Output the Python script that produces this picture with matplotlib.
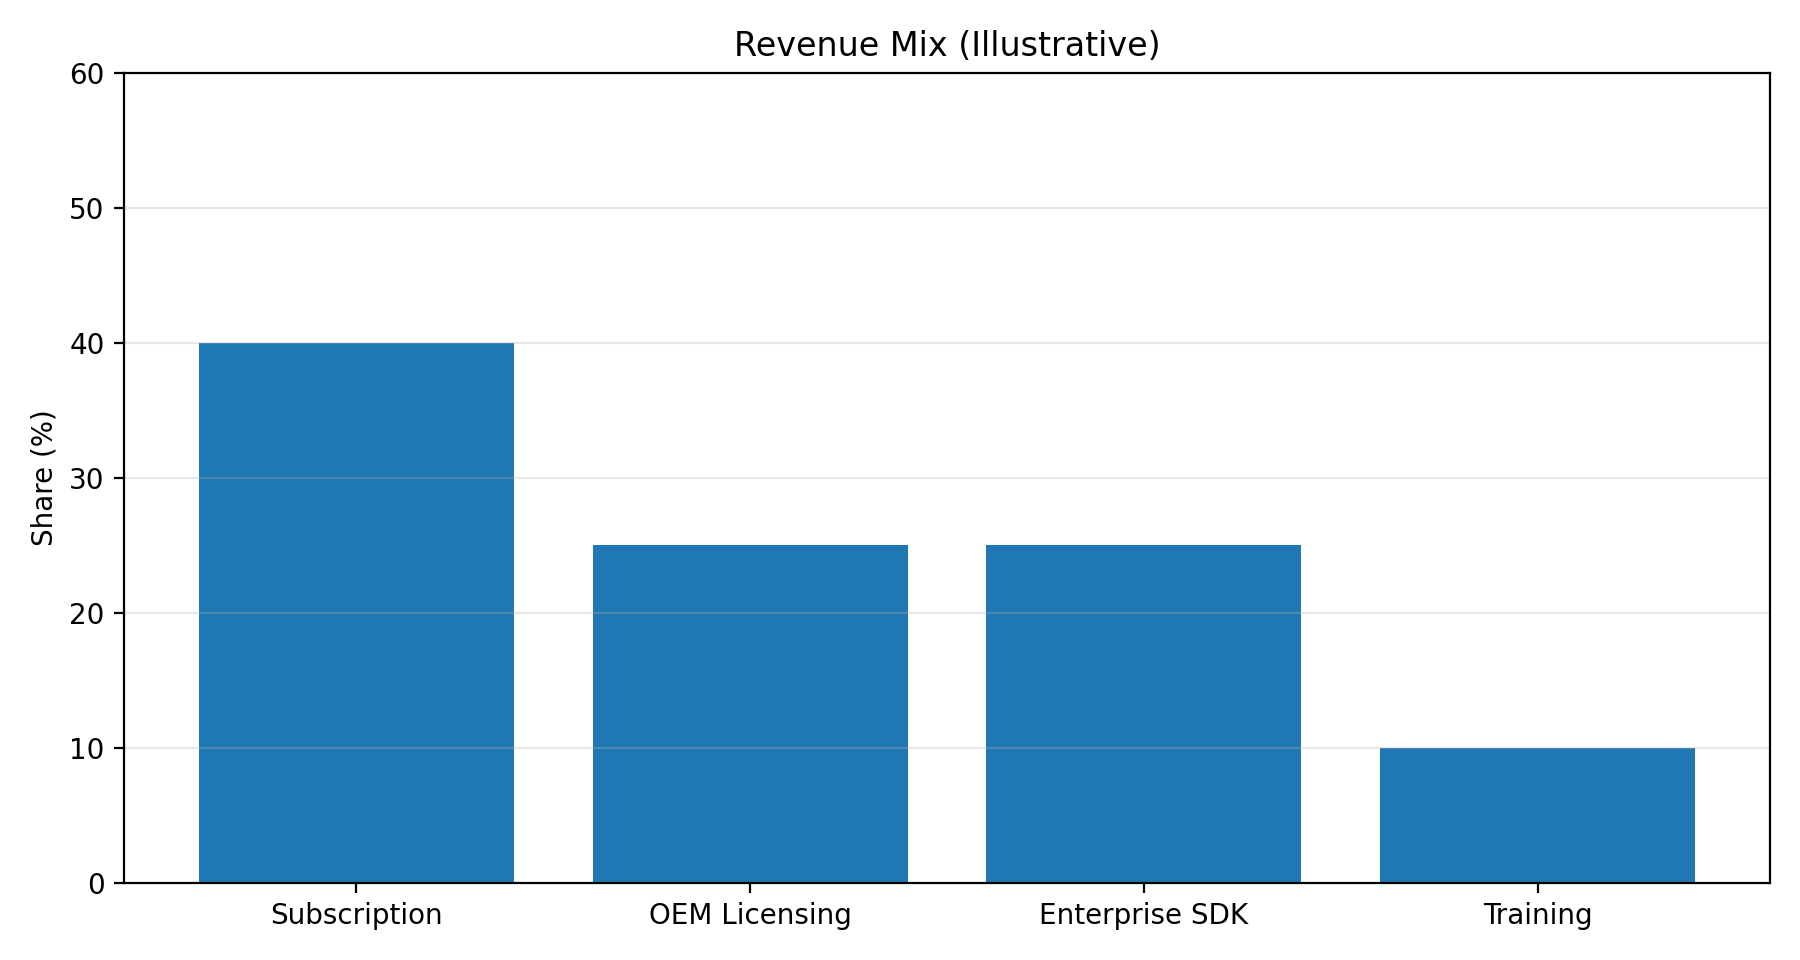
import matplotlib
matplotlib.use("Agg")
import matplotlib.pyplot as plt

categories = ["Subscription", "OEM Licensing", "Enterprise SDK", "Training"]
shares = [40, 25, 25, 10]

fig, ax = plt.subplots(figsize=(9, 4.8), dpi=200)
ax.bar(categories, shares, color="#1f77b4")
ax.set_ylim(0, 60)
ax.set_ylabel("Share (%)")
ax.set_title("Revenue Mix (Illustrative)")
ax.grid(axis="y", alpha=0.3)
fig.tight_layout()
fig.savefig("out.png")
